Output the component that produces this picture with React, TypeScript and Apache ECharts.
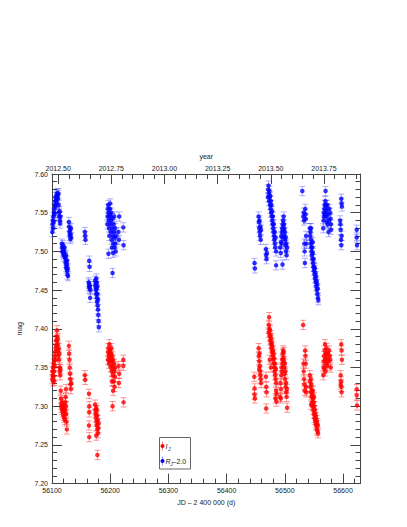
import React, { useEffect, useRef } from 'react';
import * as echarts from 'echarts';

// I_J photometry: [JD - 2400000, mag]
const iPoints: [number, number][] = [
  [56100.5, 7.335], [56101, 7.345], [56101.5, 7.340], [56102, 7.350], [56102.5, 7.338], [56103, 7.355], [56103.5, 7.345], [56104, 7.360], [56104.5, 7.352], [56105, 7.365], [56105.5, 7.370], [56106, 7.360], [56106.5, 7.375], [56107, 7.385], [56107.5, 7.378], [56108, 7.390], [56108.5, 7.398], [56109, 7.385], [56109.5, 7.380], [56110, 7.388], [56110.5, 7.372], [56111, 7.365], [56111.5, 7.375], [56112, 7.360], [56112.5, 7.368], [56113, 7.350], [56113.5, 7.345], [56114, 7.340], [56114.5, 7.348], [56102, 7.332], [56104, 7.333],
  [56115, 7.320], [56115.5, 7.310], [56116, 7.302], [56116.5, 7.298], [56117, 7.305], [56117.5, 7.295], [56118, 7.300], [56118.5, 7.292], [56119, 7.298], [56119.5, 7.288], [56120, 7.295], [56120.5, 7.302], [56121, 7.285], [56121.5, 7.290], [56122, 7.282], [56122.5, 7.295], [56123, 7.305], [56123.5, 7.312], [56124, 7.300], [56124.5, 7.290], [56125, 7.280], [56125.5, 7.270], [56124, 7.322],
  [56129, 7.378], [56129.5, 7.368], [56130, 7.360], [56130.5, 7.350], [56131, 7.342], [56131.5, 7.335], [56132, 7.328], [56132.5, 7.322], [56133, 7.330],
  [56156.5, 7.340], [56157, 7.334], [56163.5, 7.316], [56164, 7.300], [56164, 7.292], [56163.5, 7.275], [56164, 7.260],
  [56174, 7.302], [56174.5, 7.295], [56175, 7.290], [56175.5, 7.285], [56176, 7.298], [56176.5, 7.280], [56177, 7.275], [56177.5, 7.288], [56178, 7.270], [56178.5, 7.282], [56179, 7.265], [56179.5, 7.272], [56180, 7.278], [56177, 7.295], [56176, 7.262], [56178, 7.237],
  [56196, 7.360], [56196.5, 7.370], [56197, 7.375], [56197.5, 7.365], [56198, 7.355], [56198.5, 7.380], [56199, 7.368], [56199.5, 7.358], [56200, 7.372], [56200.5, 7.362], [56201, 7.350], [56201.5, 7.368], [56202, 7.375], [56202.5, 7.345], [56203, 7.358], [56203.5, 7.365], [56204, 7.352], [56204.5, 7.340], [56205, 7.360], [56205.5, 7.348], [56206, 7.332], [56206.5, 7.355], [56207, 7.345], [56207.5, 7.325], [56208, 7.338], [56208.5, 7.350], [56204, 7.300], [56205, 7.320], [56203, 7.332], [56215.5, 7.342], [56215, 7.330], [56214.5, 7.352], [56222.5, 7.360], [56222.5, 7.352], [56223, 7.305],
  [56447.5, 7.338], [56448, 7.323], [56448, 7.315], [56448.5, 7.310],
  [56455, 7.375], [56455.5, 7.365], [56456, 7.358], [56456.5, 7.368], [56457, 7.352], [56457.5, 7.345], [56458, 7.340], [56458.5, 7.335], [56459, 7.330], [56456, 7.348],
  [56467.5, 7.338], [56468, 7.325], [56468.5, 7.318], [56468, 7.297],
  [56472, 7.395], [56472.5, 7.405], [56473, 7.415], [56473.5, 7.400], [56474, 7.390], [56474.5, 7.398], [56475, 7.385], [56475.5, 7.392], [56476, 7.380], [56476.5, 7.388], [56477, 7.375], [56477.5, 7.382], [56478, 7.370], [56478.5, 7.378], [56479, 7.365], [56479.5, 7.372], [56480, 7.360], [56480.5, 7.368], [56481, 7.355], [56481.5, 7.362], [56482, 7.350], [56482.5, 7.345], [56483, 7.355], [56483.5, 7.340], [56484, 7.335], [56484.5, 7.348], [56485, 7.330], [56485, 7.320], [56484, 7.310], [56474, 7.360], [56476, 7.350], [56485.5, 7.316], [56485.5, 7.306],
  [56492.5, 7.330], [56493, 7.310], [56493.5, 7.322], [56494, 7.340], [56494.5, 7.350], [56495, 7.345], [56495.5, 7.360], [56496, 7.355], [56496.5, 7.368], [56497, 7.372], [56497.5, 7.362], [56498, 7.370], [56498.5, 7.358], [56499, 7.350], [56499.5, 7.342], [56500, 7.355], [56500.5, 7.335], [56501, 7.345], [56501.5, 7.325], [56502, 7.330], [56502.5, 7.318], [56503, 7.312], [56503.5, 7.322], [56504, 7.298], [56492, 7.312],
  [56531.5, 7.405], [56532, 7.355], [56532.5, 7.345], [56533, 7.335], [56533.5, 7.328], [56534, 7.320], [56535, 7.372], [56535.5, 7.365], [56536, 7.355], [56536.5, 7.325], [56537, 7.318],
  [56543, 7.340], [56543.5, 7.332], [56544, 7.325], [56544.5, 7.335], [56545, 7.318], [56545.5, 7.328], [56546, 7.312], [56546.5, 7.320], [56547, 7.305], [56547.5, 7.315], [56548, 7.300], [56548.5, 7.310], [56549, 7.295], [56549.5, 7.305], [56550, 7.290], [56550.5, 7.300], [56551, 7.285], [56551.5, 7.295], [56552, 7.282], [56552.5, 7.290], [56553, 7.278], [56553.5, 7.286], [56554, 7.275], [56554.5, 7.282], [56555, 7.270], [56555.5, 7.278], [56556, 7.268], [56556.5, 7.275], [56557, 7.265], [56545, 7.302], [56548, 7.320], [56550, 7.312],
  [56566, 7.340], [56566.5, 7.350], [56567, 7.358], [56567.5, 7.365], [56568, 7.348], [56568.5, 7.372], [56569, 7.380], [56569.5, 7.360], [56570, 7.345], [56570.5, 7.368], [56571, 7.355], [56571.5, 7.375], [56572, 7.362], [56573, 7.352], [56574, 7.368], [56575, 7.358], [56576, 7.372], [56577, 7.365], [56578, 7.360], [56579, 7.350],
  [56597, 7.380], [56597.5, 7.372], [56598, 7.360], [56596, 7.340], [56596.5, 7.332], [56597, 7.325], [56597.5, 7.318], [56596, 7.328],
  [56623.5, 7.322], [56623.5, 7.314], [56624, 7.301],
];

// R_J - 2.0 photometry: [JD - 2400000, mag]
const rPoints: [number, number][] = [
  [56100.5, 7.525], [56101, 7.535], [56101.5, 7.540], [56102, 7.530], [56102.5, 7.545], [56103, 7.538], [56103.5, 7.550], [56104, 7.555], [56104.5, 7.548], [56105, 7.560], [56105.5, 7.565], [56106, 7.558], [56106.5, 7.570], [56107, 7.566], [56107.5, 7.572], [56108, 7.562], [56108.5, 7.575], [56109, 7.570], [56110, 7.568], [56110.5, 7.573], [56111, 7.575], [56111.5, 7.560], [56112, 7.550], [56112.5, 7.545], [56113, 7.552], [56113.5, 7.540], [56114, 7.536], [56114.5, 7.545],
  [56117, 7.510], [56117.5, 7.505], [56118, 7.500], [56118.5, 7.508], [56119, 7.498], [56119.5, 7.503], [56120, 7.495], [56120.5, 7.500], [56121, 7.497], [56121.5, 7.505], [56122, 7.493],
  [56123, 7.492], [56123.5, 7.485], [56124, 7.488], [56124.5, 7.480], [56125, 7.478], [56125.5, 7.483], [56126, 7.475], [56126.5, 7.470], [56127, 7.478], [56127.5, 7.468], [56124, 7.495], [56126, 7.488],
  [56129, 7.538], [56129.5, 7.532], [56130, 7.525], [56130.5, 7.520], [56131, 7.528], [56131.5, 7.516], [56132, 7.522], [56132.5, 7.530], [56133, 7.518],
  [56156.5, 7.525], [56157, 7.520], [56157.5, 7.515], [56164, 7.488], [56164.5, 7.480],
  [56163, 7.460], [56163.5, 7.455], [56164, 7.458], [56164.5, 7.452], [56165, 7.455], [56165.5, 7.440], [56166, 7.450],
  [56174, 7.462], [56174.5, 7.455], [56175, 7.458], [56175.5, 7.450], [56176, 7.445], [56176.5, 7.452], [56177, 7.440], [56177.5, 7.435], [56178, 7.445], [56178.5, 7.430], [56179, 7.425], [56179.5, 7.418], [56180, 7.410], [56180.5, 7.402], [56177, 7.460], [56179, 7.438], [56178, 7.455], [56176, 7.465],
  [56195, 7.535], [56195.5, 7.545], [56196, 7.555], [56196.5, 7.560], [56197, 7.550], [56197.5, 7.540], [56198, 7.530], [56198.5, 7.520], [56199, 7.545], [56199.5, 7.555], [56200, 7.548], [56200.5, 7.535], [56201, 7.525], [56201.5, 7.540], [56202, 7.550], [56202.5, 7.515], [56203, 7.505], [56203.5, 7.530], [56204, 7.543], [56204.5, 7.520], [56205, 7.498], [56205.5, 7.510], [56206, 7.535], [56206.5, 7.525], [56207, 7.545], [56207.5, 7.505], [56208, 7.518], [56208.5, 7.530], [56209, 7.510], [56209.5, 7.500], [56210, 7.520], [56204, 7.472], [56215.5, 7.545], [56214, 7.525], [56215, 7.515], [56222.5, 7.531], [56223, 7.508], [56197, 7.497], [56200, 7.562],
  [56448, 7.485], [56448.5, 7.478],
  [56455, 7.545], [56455.5, 7.538], [56456, 7.530], [56456.5, 7.540], [56457, 7.525], [56457.5, 7.520], [56458, 7.532], [56458.5, 7.515], [56459, 7.528],
  [56467.5, 7.503], [56468, 7.495], [56468.5, 7.490], [56469, 7.498], [56485, 7.482], [56496, 7.483],
  [56471, 7.570], [56471.5, 7.580], [56472, 7.585], [56472.5, 7.575], [56473, 7.565], [56473.5, 7.578], [56474, 7.570], [56474.5, 7.560], [56475, 7.572], [56475.5, 7.555], [56476, 7.565], [56476.5, 7.550], [56477, 7.560], [56477.5, 7.545], [56478, 7.552], [56478.5, 7.540], [56479, 7.535], [56479.5, 7.545], [56480, 7.530], [56480.5, 7.525], [56481, 7.535], [56481.5, 7.520], [56482, 7.515], [56482.5, 7.525], [56483, 7.510], [56483.5, 7.505], [56484, 7.518], [56485, 7.500],
  [56492, 7.505], [56493, 7.498], [56493.5, 7.512], [56494, 7.520], [56494.5, 7.510], [56495, 7.525], [56495.5, 7.530], [56496, 7.518], [56496.5, 7.535], [56497, 7.540], [56497.5, 7.528], [56498, 7.545], [56498.5, 7.535], [56499, 7.530], [56499.5, 7.520], [56500, 7.525], [56500.5, 7.515], [56501, 7.508], [56501.5, 7.518], [56502, 7.500], [56502.5, 7.510], [56503, 7.495], [56504, 7.505],
  [56530, 7.578], [56532, 7.545], [56532.5, 7.550], [56533, 7.540], [56533.5, 7.510], [56534, 7.500], [56534.5, 7.485], [56535, 7.555], [56535.5, 7.548], [56536, 7.542], [56536.5, 7.520], [56537, 7.510],
  [56543, 7.530], [56543.5, 7.520], [56544, 7.525], [56544.5, 7.510], [56545, 7.515], [56545.5, 7.505], [56546, 7.500], [56546.5, 7.495], [56547, 7.505], [56547.5, 7.490], [56548, 7.498], [56548.5, 7.485], [56549, 7.480], [56549.5, 7.490], [56550, 7.475], [56550.5, 7.480], [56551, 7.470], [56551.5, 7.478], [56552, 7.465], [56552.5, 7.472], [56553, 7.460], [56553.5, 7.468], [56554, 7.455], [56554.5, 7.462], [56555, 7.450], [56555.5, 7.458], [56556, 7.445], [56556.5, 7.452], [56557, 7.440], [56557.5, 7.437], [56545, 7.530], [56548, 7.512],
  [56566, 7.530], [56566.5, 7.540], [56567, 7.550], [56567.5, 7.545], [56568, 7.555], [56568.5, 7.560], [56569, 7.548], [56569.5, 7.565], [56570, 7.578], [56570.5, 7.560], [56571, 7.552], [56571.5, 7.545], [56572, 7.538], [56572.5, 7.555], [56573, 7.560], [56573.5, 7.535], [56574, 7.548], [56575, 7.525], [56576, 7.540], [56576.5, 7.555], [56578, 7.550], [56578.5, 7.542], [56579, 7.535], [56579.5, 7.528],
  [56597, 7.568], [56597.5, 7.562], [56598, 7.558], [56595, 7.540], [56595.5, 7.535], [56596, 7.528], [56596.5, 7.515], [56597, 7.508], [56597.5, 7.520],
  [56623.5, 7.528], [56623.5, 7.518], [56624, 7.508],
];

const iErr = 0.006;
const rErr = 0.006;

const jdMin = 56100;
const jdMax = 56630;
const jdTicks = [56100, 56200, 56300, 56400, 56500, 56600];
const jdMinorStep = 20;

const yearTicks = [2012.5, 2012.75, 2013.0, 2013.25, 2013.5, 2013.75];
const yearLabels = ['2012.50', '2012.75', '2013.00', '2013.25', '2013.50', '2013.75'];
const yearMinorStep = 0.05;

const magMin = 7.2;
const magMax = 7.6;
const magInterval = 0.05;

const yearToJd = (y: number) => 51545 + (y - 2000) * 365.25;

const AXIS = '#444';
const TEXT = '#222';
const FONT = 'Liberation Sans, Arial, sans-serif';

const errRender = (color: string) => (params: any, api: any) => {
  const x = api.value(0);
  const y = api.value(1);
  const e = api.value(2);
  const top = api.coord([x, y + e]);
  const bot = api.coord([x, y - e]);
  const hw = 3;
  const style = { stroke: color, lineWidth: 1, fill: 'none' };
  return {
    type: 'group',
    children: [
      { type: 'line', shape: { x1: top[0], y1: top[1], x2: bot[0], y2: bot[1] }, style },
      { type: 'line', shape: { x1: top[0] - hw, y1: top[1], x2: top[0] + hw, y2: top[1] }, style },
      { type: 'line', shape: { x1: bot[0] - hw, y1: bot[1], x2: bot[0] + hw, y2: bot[1] }, style },
    ],
  };
};

export default function App() {
  const ref = useRef<HTMLDivElement>(null);
  useEffect(() => {
    if (!ref.current) return;
    const chart = echarts.init(ref.current, null, { renderer: 'svg' });

    const jdMinor: number[] = [];
    for (let v = jdMin + jdMinorStep; v <= jdMax; v += jdMinorStep) {
      if (!jdTicks.includes(v)) jdMinor.push(v);
    }
    const yearMinor: number[] = [];
    for (let k = 0; k < 40; k++) {
      const y = 2012.45 + k * yearMinorStep;
      const jd = yearToJd(y);
      if (jd < jdMin || jd > jdMax) continue;
      if (yearTicks.some((t) => Math.abs(t - y) < 1e-6)) continue;
      yearMinor.push(jd);
    }
    const yearJd = yearTicks.map(yearToJd);

    const labelStyle = { fontSize: 7, color: TEXT, fontFamily: FONT };
    const baseX = {
      type: 'value',
      min: jdMin,
      max: jdMax,
      splitLine: { show: false },
      axisLine: { show: false, lineStyle: { color: AXIS, width: 1 } },
      axisLabel: { show: false },
      axisTick: { show: false },
    };

    chart.setOption({
      animation: false,
      backgroundColor: '#fff',
      grid: { left: 52, right: 46.5, top: 174, bottom: 43.4, containLabel: false },
      xAxis: [
        {
          ...baseX,
          position: 'bottom',
          name: 'JD – 2 400 000 (d)',
          nameLocation: 'middle',
          nameGap: 13,
          nameTextStyle: { ...labelStyle },
          axisLine: { show: true, onZero: false, lineStyle: { color: AXIS, width: 1 } },
          axisTick: { show: true, inside: true, length: 10, customValues: jdTicks, lineStyle: { color: AXIS } },
          axisLabel: { show: true, ...labelStyle, margin: 3, customValues: jdTicks, formatter: (v: number) => String(Math.round(v)) },
        },
        {
          ...baseX,
          position: 'bottom',
          axisTick: { show: true, inside: true, length: 5, customValues: jdMinor, lineStyle: { color: AXIS } },
        },
        {
          ...baseX,
          position: 'top',
          name: 'year',
          nameLocation: 'middle',
          nameGap: 14,
          nameTextStyle: { ...labelStyle },
          axisLine: { show: true, onZero: false, lineStyle: { color: AXIS, width: 1 } },
          axisTick: { show: true, inside: true, length: 10, customValues: yearJd, lineStyle: { color: AXIS } },
          axisLabel: {
            show: true,
            ...labelStyle,
            margin: 2,
            customValues: yearJd,
            formatter: (v: number) => {
              let best = 0;
              yearJd.forEach((j, i) => {
                if (Math.abs(j - v) < Math.abs(yearJd[best] - v)) best = i;
              });
              return yearLabels[best];
            },
          },
        },
        {
          ...baseX,
          position: 'top',
          axisTick: { show: true, inside: true, length: 5, customValues: yearMinor, lineStyle: { color: AXIS } },
        },
      ],
      yAxis: [
        {
          type: 'value',
          position: 'left',
          min: magMin,
          max: magMax,
          interval: magInterval,
          name: 'mag',
          nameLocation: 'middle',
          nameGap: 17,
          nameTextStyle: { ...labelStyle },
          splitLine: { show: false },
          axisLine: { show: true, onZero: false, lineStyle: { color: AXIS, width: 1 } },
          axisTick: { show: true, inside: true, length: 10, lineStyle: { color: AXIS } },
          minorTick: { show: true, splitNumber: 5, length: 5, lineStyle: { color: AXIS } },
          axisLabel: { ...labelStyle, margin: 4, formatter: (v: number) => v.toFixed(2) },
        },
        {
          type: 'value',
          position: 'right',
          min: magMin,
          max: magMax,
          interval: magInterval,
          splitLine: { show: false },
          axisLine: { show: true, onZero: false, lineStyle: { color: AXIS, width: 1 } },
          axisTick: { show: true, inside: true, length: 10, lineStyle: { color: AXIS } },
          minorTick: { show: true, splitNumber: 5, length: 5, lineStyle: { color: AXIS } },
          axisLabel: { show: false },
        },
      ],
      series: [
        {
          type: 'custom',
          name: 'I err',
          xAxisIndex: 0,
          yAxisIndex: 0,
          renderItem: errRender('rgba(255,0,0,0.4)'),
          encode: { x: 0, y: 1 },
          data: iPoints.map(([x, y]) => [x, y, iErr]),
          z: 1,
        },
        {
          type: 'custom',
          name: 'R err',
          xAxisIndex: 0,
          yAxisIndex: 0,
          renderItem: errRender('rgba(0,0,255,0.3)'),
          encode: { x: 0, y: 1 },
          data: rPoints.map(([x, y]) => [x, y, rErr]),
          z: 1,
        },
        {
          type: 'scatter',
          name: 'I_J',
          xAxisIndex: 0,
          yAxisIndex: 0,
          symbol: 'circle',
          symbolSize: 4.5,
          itemStyle: { color: '#ff0000' },
          data: iPoints,
          z: 3,
        },
        {
          type: 'scatter',
          name: 'R_J-2.0',
          xAxisIndex: 0,
          yAxisIndex: 0,
          symbol: 'circle',
          symbolSize: 4.5,
          itemStyle: { color: '#0000ff' },
          data: rPoints,
          z: 3,
        },
      ],
      graphic: [
        { type: 'rect', z: 10, shape: { x: 159.5, y: 437.5, width: 31, height: 31.5 }, style: { fill: '#fff', stroke: '#666', lineWidth: 1 } },
        { type: 'line', z: 11, shape: { x1: 162.5, y1: 441.5, x2: 162.5, y2: 450.5 }, style: { stroke: 'rgba(255,0,0,0.45)', lineWidth: 1 } },
        { type: 'circle', z: 11, shape: { cx: 162.5, cy: 446, r: 2 }, style: { fill: '#ff0000' } },
        { type: 'text', z: 11, x: 165.5, y: 446, style: { text: 'I', font: `italic 7px ${FONT}`, fill: TEXT, verticalAlign: 'middle' } },
        { type: 'text', z: 11, x: 168, y: 448.5, style: { text: 'J', font: `italic 5px ${FONT}`, fill: TEXT, verticalAlign: 'middle' } },
        { type: 'line', z: 11, shape: { x1: 162.5, y1: 456.5, x2: 162.5, y2: 465.5 }, style: { stroke: 'rgba(0,0,255,0.4)', lineWidth: 1 } },
        { type: 'circle', z: 11, shape: { cx: 162.5, cy: 461, r: 2 }, style: { fill: '#0000ff' } },
        { type: 'text', z: 11, x: 165.5, y: 461, style: { text: 'R', font: `italic 7px ${FONT}`, fill: TEXT, verticalAlign: 'middle' } },
        { type: 'text', z: 11, x: 170.3, y: 463.5, style: { text: 'J', font: `italic 5px ${FONT}`, fill: TEXT, verticalAlign: 'middle' } },
        { type: 'text', z: 11, x: 172.5, y: 461, style: { text: '–2.0', font: `7px ${FONT}`, fill: TEXT, verticalAlign: 'middle' } },
      ],
    });
    return () => chart.dispose();
  }, []);
  return <div ref={ref} style={{ position: 'fixed', left: 0, top: 0, width: 407, height: 527 }} />;
}
